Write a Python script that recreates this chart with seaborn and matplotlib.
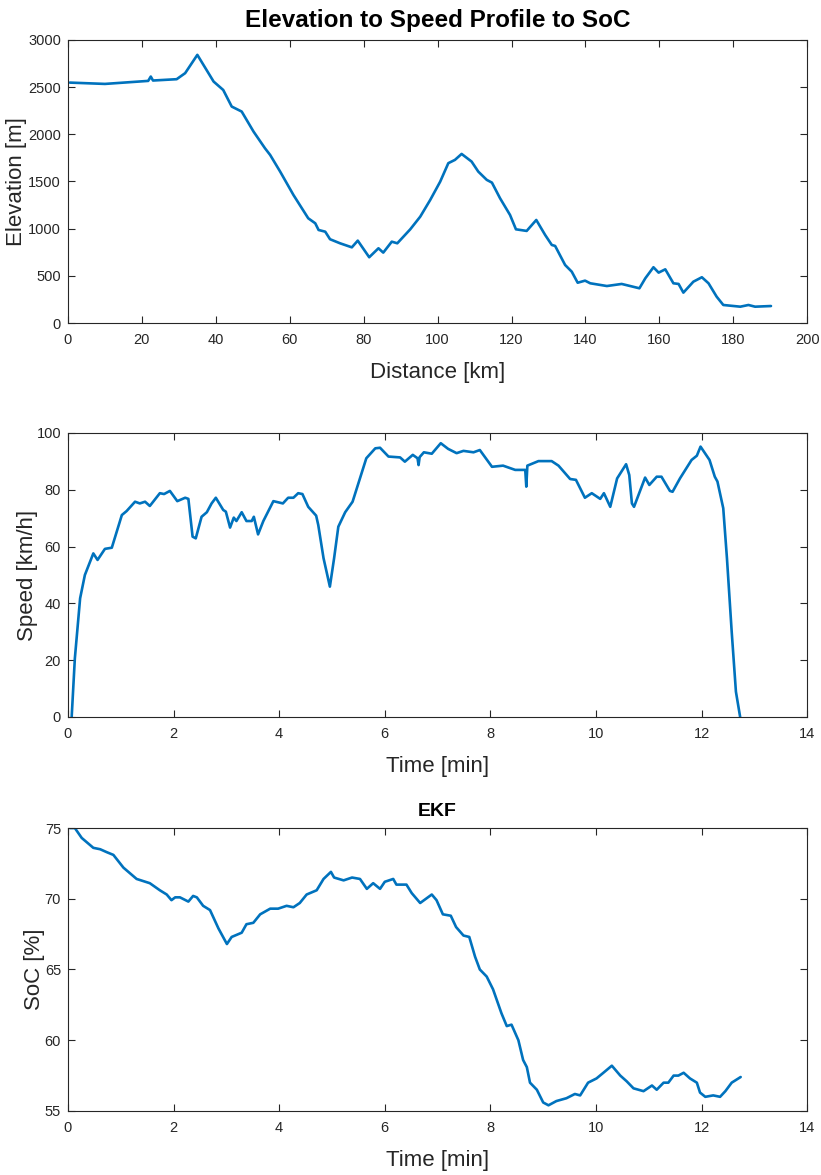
import numpy as np
import pandas as pd
import matplotlib
matplotlib.use("Agg")
import matplotlib.pyplot as plt
import seaborn as sns
from matplotlib import font_manager

# ---------------- data ----------------
elev_km = [0.5, 10, 21.7, 22.4, 23.0, 29.4, 31.7, 35, 39.4, 42, 44.3, 47, 50.2, 53.3, 54.7, 57.4,
           61, 65, 66.9, 67.8, 69.6, 70.9, 73.6, 76.8, 78.4, 81.5, 84, 85.3, 87.6, 89.1, 92.6,
           95.3, 98, 100.7, 102.9, 104.7, 106.5, 109.2, 111, 113.3, 114.7, 116.9, 119.6, 121.2,
           124.1, 126.7, 129.1, 130.9, 131.8, 134.5, 136.3, 137.9, 139.9, 141.3, 145.8, 149.8,
           152.1, 154.6, 156.2, 158.4, 159.8, 161.6, 163.8, 165.2, 166.5, 169.2, 171.5, 173.3,
           175.5, 177.3, 181.9, 184.1, 185.9, 190.2]
elev_m = [2548, 2534, 2566, 2612, 2570, 2584, 2648, 2842, 2559, 2470, 2294, 2241, 2029, 1852, 1781, 1605,
          1357, 1110, 1057, 986, 968, 888, 845, 802, 873, 697, 792, 746, 862, 845, 993,
          1127, 1304, 1498, 1694, 1729, 1792, 1711, 1605, 1517, 1488, 1322, 1145, 993,
          976, 1092, 933, 827, 817, 615, 544, 427, 449, 421, 392, 414,
          392, 368, 474, 591, 534, 569, 421, 414, 322, 438, 485, 421,
          279, 191, 173, 191, 173, 180]

speed_t = [0.07, 0.13, 0.23, 0.32, 0.48, 0.56, 0.70, 0.83, 1.02, 1.11, 1.27, 1.36, 1.46, 1.55, 1.74,
           1.82, 1.93, 2.07, 2.22, 2.28, 2.36, 2.42, 2.53, 2.63, 2.72, 2.80, 2.94, 2.99, 3.07, 3.14,
           3.19, 3.29, 3.38, 3.48, 3.52, 3.60, 3.70, 3.89, 4.07, 4.17, 4.27, 4.36, 4.44, 4.55, 4.70,
           4.74, 4.84, 4.96, 5.04, 5.12, 5.25, 5.39, 5.65, 5.82, 5.91, 6.07, 6.29, 6.38, 6.53, 6.62,
           6.64, 6.66, 6.74, 6.89, 7.06, 7.20, 7.36, 7.49, 7.68, 7.80, 8.03, 8.24, 8.47, 8.66, 8.68,
           8.70, 8.91, 9.16, 9.29, 9.51, 9.62, 9.79, 9.92, 10.08, 10.15, 10.27, 10.40, 10.57, 10.63,
           10.68, 10.72, 10.93, 11.01, 11.15, 11.24, 11.40, 11.45, 11.59, 11.81, 11.91, 11.98, 12.15,
           12.25, 12.30, 12.41, 12.48, 12.57, 12.65, 12.73]
speed_v = [0, 20.6, 41.8, 50, 57.6, 55.3, 59.2, 59.6, 71.1, 72.5, 75.8, 75.2, 75.8, 74.3, 78.8,
           78.5, 79.6, 76, 77.2, 76.8, 63.5, 62.9, 70.5, 72.1, 75.2, 77.2, 72.9, 72.3, 66.7, 70.2,
           69, 72.1, 69, 69, 70.5, 64.3, 69, 76, 75.2, 77.2, 77.2, 78.8, 78.5, 74, 70.9,
           67.6, 55.9, 45.9, 55.9, 67, 72.1, 75.8, 91.1, 94.6, 94.8, 91.7, 91.4, 89.9, 92.3, 91.1,
           88.7, 91.5, 93.2, 92.7, 96.4, 94.4, 92.9, 93.7, 93.2, 94, 88.1, 88.5, 87, 87, 81.1,
           88.5, 90.1, 90.1, 88.5, 83.8, 83.5, 77.2, 78.8, 76.8, 78.8, 74, 84, 89, 85.2,
           75.2, 74, 84.3, 81.7, 84.6, 84.6, 79.6, 79.3, 84, 90.5, 92, 95.2, 90.5,
           84.6, 82.9, 73.5, 55.9, 30, 8.9, 0]

soc_t = [0.04, 0.13, 0.26, 0.48, 0.61, 0.73, 0.86, 1.05, 1.30, 1.55, 1.74, 1.87, 1.96, 2.03, 2.12,
         2.28, 2.37, 2.44, 2.56, 2.69, 2.85, 3.01, 3.10, 3.29, 3.38, 3.51, 3.64, 3.83, 3.98, 4.14,
         4.27, 4.39, 4.52, 4.71, 4.84, 4.98, 5.04, 5.22, 5.38, 5.53, 5.66, 5.78, 5.91, 6.00, 6.16,
         6.22, 6.41, 6.51, 6.67, 6.89, 6.98, 7.10, 7.25, 7.35, 7.49, 7.60, 7.71, 7.80, 7.93, 8.05,
         8.21, 8.31, 8.40, 8.53, 8.62, 8.69, 8.75, 8.88, 9.00, 9.10, 9.25, 9.44, 9.60, 9.70, 9.85,
         10.01, 10.14, 10.30, 10.46, 10.58, 10.71, 10.90, 11.06, 11.15, 11.28, 11.37, 11.47, 11.56,
         11.66, 11.78, 11.91, 11.97, 12.07, 12.22, 12.35, 12.45, 12.57, 12.74]
soc_v = [75.0, 75.0, 74.3, 73.6, 73.5, 73.3, 73.1, 72.2, 71.4, 71.1, 70.6, 70.3, 69.9, 70.1, 70.1,
         69.8, 70.2, 70.1, 69.5, 69.2, 67.9, 66.8, 67.3, 67.6, 68.2, 68.3, 68.9, 69.3, 69.3, 69.5,
         69.4, 69.7, 70.3, 70.6, 71.4, 71.9, 71.5, 71.3, 71.5, 71.4, 70.7, 71.1, 70.7, 71.2, 71.4,
         71.0, 71.0, 70.4, 69.7, 70.3, 69.9, 68.9, 68.8, 68.0, 67.4, 67.3, 65.9, 65.0, 64.5, 63.6,
         61.9, 61.0, 61.1, 60.0, 58.6, 58.1, 57.0, 56.5, 55.6, 55.4, 55.7, 55.9, 56.2, 56.1, 57.0,
         57.3, 57.7, 58.2, 57.5, 57.1, 56.6, 56.4, 56.8, 56.5, 57.0, 57.0, 57.5, 57.5,
         57.7, 57.3, 57.0, 56.3, 56.0, 56.1, 56.0, 56.4, 57.0, 57.4]

# ---------------- style ----------------
sns.set_theme(style="ticks")
avail = {f.name for f in font_manager.fontManager.ttflist}
fam = "Liberation Sans Narrow" if "Liberation Sans Narrow" in avail else "Liberation Sans"
plt.rcParams["font.family"] = [fam, "DejaVu Sans"]
plt.rcParams["xtick.direction"] = "in"
plt.rcParams["ytick.direction"] = "in"

LINE = "#0072BD"
AX = "#262626"

fig = plt.figure(figsize=(8.21, 11.75), dpi=100)
L, W = 0.0828, 0.9004
ax1 = fig.add_axes([L, 0.7251, W, 0.2409])
ax2 = fig.add_axes([L, 0.3898, W, 0.2417])
ax3 = fig.add_axes([L, 0.0545, W, 0.2408])

df1 = pd.DataFrame({"x": elev_km, "y": elev_m})
df2 = pd.DataFrame({"x": speed_t, "y": speed_v})
df3 = pd.DataFrame({"x": soc_t, "y": soc_v})

for ax, df in [(ax1, df1), (ax2, df2), (ax3, df3)]:
    sns.lineplot(data=df, x="x", y="y", ax=ax, color=LINE, linewidth=1.9,
                 sort=False, estimator=None)
    for s in ax.spines.values():
        s.set_visible(True)
        s.set_color(AX)
        s.set_linewidth(0.8)
    ax.tick_params(axis="both", which="both", direction="in", top=True, right=True,
                   colors=AX, labelsize=10.5, length=5, width=0.8, labelcolor="#262626")
    ax.tick_params(axis="x", pad=7)
    ax.tick_params(axis="y", pad=5)

lab = dict(fontsize=16, color="#262626")
ax1.set_xlim(0, 200)
ax1.set_ylim(0, 3000)
ax1.set_xticks(np.arange(0, 201, 20))
ax1.set_yticks(np.arange(0, 3001, 500))
ax1.set_xlabel("Distance [km]", labelpad=11, **lab)
ax1.set_ylabel("Elevation [m]", labelpad=1, **lab)
ax1.set_title("Elevation to Speed Profile to SoC", fontsize=17.5, fontweight="bold",
              pad=9, color="black")

ax2.set_xlim(0, 14)
ax2.set_ylim(0, 100)
ax2.set_xticks(np.arange(0, 15, 2))
ax2.set_yticks(np.arange(0, 101, 20))
ax2.set_xlabel("Time [min]", labelpad=11, **lab)
ax2.set_ylabel("Speed [km/h]", labelpad=-1, **lab)

ax3.set_xlim(0, 14)
ax3.set_ylim(55, 75)
ax3.set_xticks(np.arange(0, 15, 2))
ax3.set_yticks(np.arange(55, 76, 5))
ax3.set_xlabel("Time [min]", labelpad=11, **lab)
ax3.set_ylabel("SoC [%]", labelpad=0, **lab)
ax3.set_title("EKF", fontsize=14, fontweight="bold", pad=9, color="black")

fig.savefig("out.png", dpi=100)
